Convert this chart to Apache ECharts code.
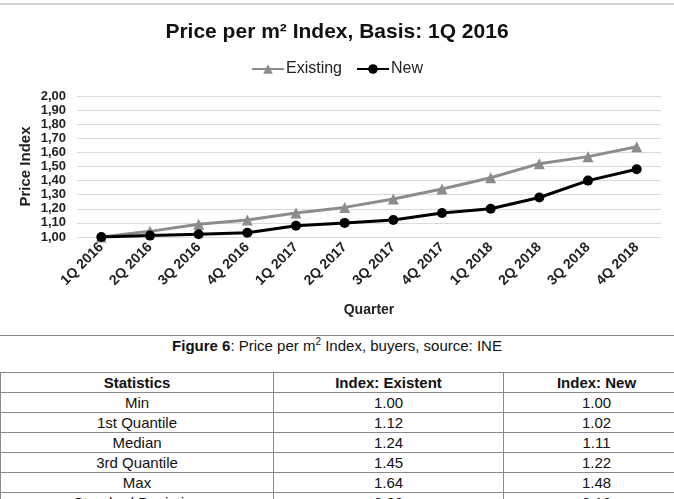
<!DOCTYPE html>
<html>
<head>
<meta charset="utf-8">
<script src="https://cdn.jsdelivr.net/npm/echarts@6/dist/echarts.min.js"></script>
<style>
  html, body { margin: 0; padding: 0; background: #fff; overflow: hidden; width: 674px; height: 499px; }
  body { font-family: "Liberation Sans", Arial, sans-serif; position: relative; }
  #topline { position: absolute; left: 0; top: 3px; width: 674px; height: 2px; background: #d4d4d4; }
  #chart { position: absolute; left: 0; top: 0; width: 674px; height: 335px; }
  #sep { position: absolute; left: 0; top: 335px; width: 674px; height: 1px; background: #8a8a8a; }
  #caption { position: absolute; left: 0; width: 674px; top: 336px; text-align: center; font-size: 15px; color: #111; }
  #caption sup { font-size: 10px; }
  table { position: absolute; left: 0; top: 372px; width: 690px; border-collapse: collapse; font-size: 15px; color: #111; }
  td, th { border: 1px solid #8a8a8a; text-align: center; height: 19px; padding: 0; line-height: 19px; }
  th { font-weight: bold; }
</style>
</head>
<body>
<div id="topline"></div>
<div id="chart"></div>
<div id="sep"></div>
<div id="caption"><b>Figure 6</b>: Price per m<sup>2</sup> Index, buyers, source: INE</div>
<table id="stats"></table>
<script>
// quarters and index values
var quarters = ['1Q 2016', '2Q 2016', '3Q 2016', '4Q 2016', '1Q 2017', '2Q 2017',
                '3Q 2017', '4Q 2017', '1Q 2018', '2Q 2018', '3Q 2018', '4Q 2018'];
var existing = [1.00, 1.04, 1.09, 1.12, 1.17, 1.21, 1.27, 1.34, 1.42, 1.52, 1.57, 1.64];
var newer = [1.00, 1.01, 1.02, 1.03, 1.08, 1.10, 1.12, 1.17, 1.20, 1.28, 1.40, 1.48];

// table below the chart
var statNames = ['Min', '1st Quantile', 'Median', '3rd Quantile', 'Max', 'Standard Deviation'];
var statExisting = ['1.00', '1.12', '1.24', '1.45', '1.64', '0.22'];
var statNew = ['1.00', '1.02', '1.11', '1.22', '1.48', '0.16'];

var html = '<tr><th style="width:272px">Statistics</th><th style="width:229px">Index: Existent</th><th>Index: New</th></tr>';
for (var i = 0; i < statNames.length; i++) {
    html += '<tr><td>' + statNames[i] + '</td><td>' + statExisting[i] + '</td><td>' + statNew[i] + '</td></tr>';
}
document.getElementById('stats').innerHTML = html;

var myChart = echarts.init(document.getElementById('chart'));
var font = 'Liberation Sans, Arial, sans-serif';

option = {
    animation: false,
    title: {
        text: 'Price per m² Index, Basis: 1Q 2016',
        left: 'center',
        top: 17,
        textStyle: { fontFamily: font, fontSize: 21, fontWeight: 'bold', color: '#111' }
    },
    legend: {
        top: 56,
        left: 'center',
        itemWidth: 32,
        itemHeight: 12,
        itemGap: 14,
        textStyle: { fontFamily: font, fontSize: 16, color: '#222', padding: [0, 0, 0, -3] },
        data: ['Existing', 'New']
    },
    grid: { left: 77, right: 13, top: 96, bottom: 98 },
    xAxis: {
        type: 'category',
        data: quarters,
        boundaryGap: true,
        name: 'Quarter',
        nameLocation: 'middle',
        nameGap: 66,
        nameTextStyle: { fontFamily: font, fontSize: 14, fontWeight: 'bold', color: '#222' },
        axisLine: { show: false },
        axisTick: { show: false },
        axisLabel: { rotate: 45, interval: 0, margin: 8, fontFamily: font, fontSize: 14, fontWeight: 'bold', color: '#222' }
    },
    yAxis: {
        type: 'value',
        min: 1,
        max: 2,
        interval: 0.1,
        name: 'Price Index',
        nameLocation: 'middle',
        nameGap: 44,
        nameMoveOverlap: false,
        nameTextStyle: { fontFamily: font, fontSize: 15, fontWeight: 'bold', color: '#222' },
        axisLabel: {
            fontFamily: font, fontSize: 13, fontWeight: 'bold', color: '#222', margin: 11,
            formatter: function (v) { return v.toFixed(2).replace('.', ','); }
        },
        splitLine: { lineStyle: { color: '#dadada', width: 1 } }
    },
    series: [
        {
            name: 'Existing',
            type: 'line',
            data: existing,
            symbol: 'triangle',
            symbolSize: 11,
            color: '#8c8c8c',
            lineStyle: { width: 3, color: '#8c8c8c' },
            itemStyle: { color: '#8c8c8c' }
        },
        {
            name: 'New',
            type: 'line',
            data: newer,
            symbol: 'circle',
            symbolSize: 10,
            color: '#000',
            lineStyle: { width: 3, color: '#000' },
            itemStyle: { color: '#000' },
            z: 3
        }
    ]
};

myChart.setOption(option);
</script>
</body>
</html>
